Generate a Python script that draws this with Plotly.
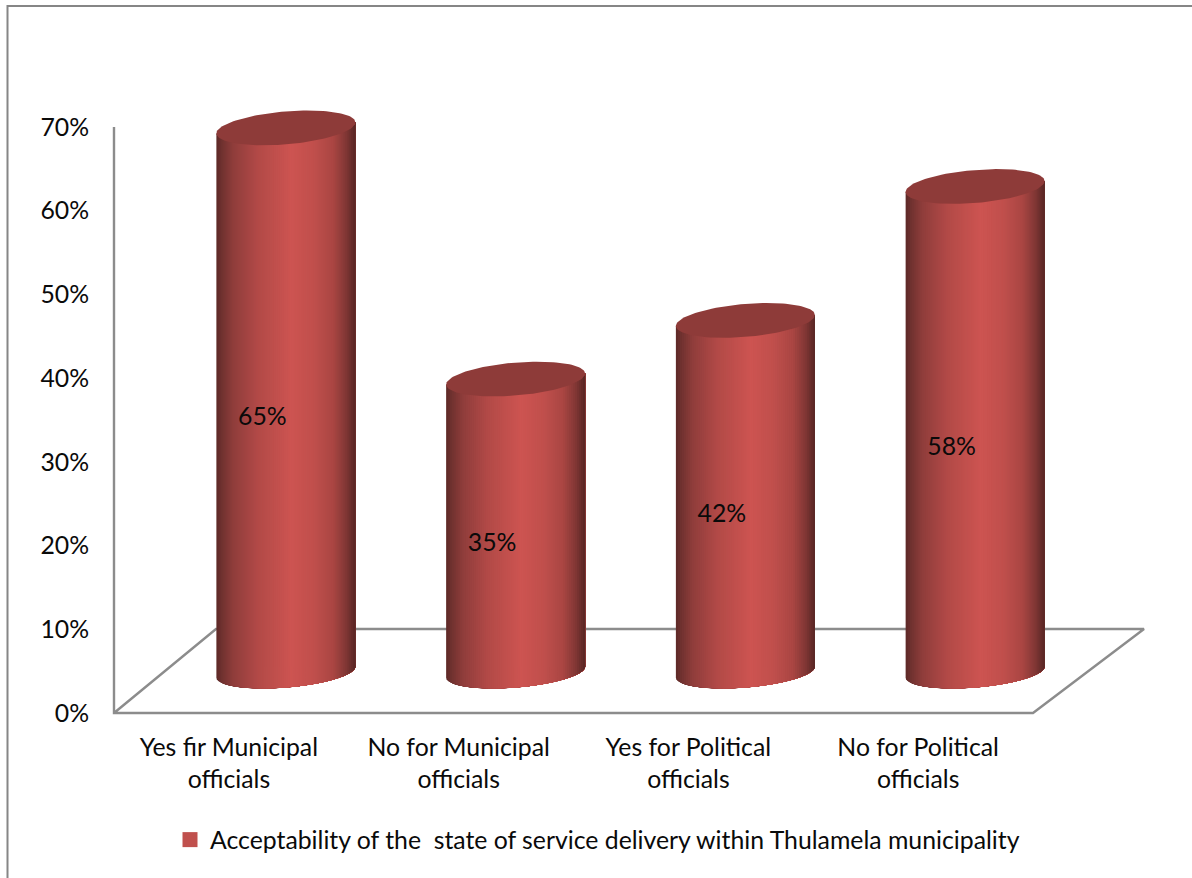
import numpy as np
import plotly.graph_objects as go

# Survey results, in percent
categories = ["Yes fir Municipal<br>officials", "No for Municipal<br>officials",
              "Yes for Political<br>officials", "No for Political<br>officials"]
values = [65, 35, 42, 58]
y_ticks = [0, 10, 20, 30, 40, 50, 60, 70]
y_tick_labels = ["0%", "10%", "20%", "30%", "40%", "50%", "60%", "70%"]
series_name = "Acceptability of the \u00a0state of service delivery within Thulamela municipality"

FONT = "Lato"
TEXT_SIZE = 24.8
TEXT_COLOR = "#0a0a0a"
W, H = 1192, 878

# Scale of the category and value axes on the page
PX_PER_CAT = 229.75
PX_PER_PCT = 8.371
X0_PX, Y0_PX = 114, 713

# Pseudo-3D projection: the floor recedes up and to the right
DEPTH_DX = 57 / PX_PER_CAT       # cylinder centre relative to its category slot
BASE_LIFT = 41 / PX_PER_PCT      # cylinder base above the front edge of the floor
BACK_Y = 84 / PX_PER_PCT
BACK_LEFT = 102 / PX_PER_CAT
BACK_RIGHT = 4 + 111 / PX_PER_CAT

RADIUS = 69.5 / PX_PER_CAT
MINOR = 15.5 / PX_PER_PCT
LID_MINOR = 16.5 / PX_PER_PCT
SHEAR = 5.5 / PX_PER_PCT

# Left-to-right shading across a cylinder
shade_pos = [0.0, 0.04, 0.12, 0.30, 0.54, 0.70, 0.84, 0.93, 1.0]
shade_rgb = [(92, 40, 38), (112, 50, 48), (143, 61, 59), (178, 74, 71), (205, 84, 81),
             (192, 79, 76), (170, 70, 67), (130, 55, 53), (88, 38, 36)]
LID_COLOR = "#8e3b39"
AXIS_COLOR = "#8c8c8c"
SWATCH_COLOR = "#c0504d"


def shade(u):
    r, g, b = (np.interp(u, shade_pos, [c[i] for c in shade_rgb]) for i in range(3))
    return f"rgb({r:.0f},{g:.0f},{b:.0f})"


def rim(cx, cy, t, minor=MINOR):
    """Point on a sheared ellipse around (cx, cy); the right-hand side rides higher."""
    return cx + RADIUS * np.cos(t), cy + minor * np.sin(t) + SHEAR * np.cos(t)


fig = go.Figure()

# Axis wall and floor outline
fig.add_trace(go.Scatter(
    x=[0, 0, 4, BACK_RIGHT, BACK_LEFT, 0],
    y=[y_ticks[-1], 0, 0, BACK_Y, BACK_Y, 0],
    mode="lines", line=dict(color=AXIS_COLOR, width=2.4),
    hoverinfo="skip", showlegend=False))

# Each cylinder is painted from left to right: every band runs from its own
# left boundary to the right edge, so neighbouring bands leave no seams.
BANDS = 70
for i, v in enumerate(values):
    cx = i + 0.5 + DEPTH_DX
    y_base = BASE_LIFT
    y_top = BASE_LIFT + v
    for b in range(BANDS):
        u = b / BANDS
        # Lower arc of the base, from the band's left boundary round to the right edge
        t_start = np.arccos(1 - 2 * u)
        ts = np.linspace(np.pi + t_start, 2 * np.pi, 30)
        bx, by = rim(cx, y_base, ts)
        # Straight up the right silhouette, back along the centre line of the lid
        lid_x = cx + RADIUS * np.array([1.0, 2 * u - 1])
        lid_y = y_top + SHEAR * np.array([1.0, 2 * u - 1])
        fig.add_trace(go.Scatter(
            x=np.concatenate([bx, lid_x]), y=np.concatenate([by, lid_y]),
            mode="lines", fill="toself", fillcolor=shade(u + 0.5 / BANDS),
            line=dict(width=0), hoverinfo="skip", showlegend=False))
    # Upper lid
    t = np.linspace(0, 2 * np.pi, 120)
    lx, ly = rim(cx, y_top, t, LID_MINOR)
    fig.add_trace(go.Scatter(
        x=lx, y=ly, mode="lines", fill="toself", fillcolor=LID_COLOR,
        line=dict(width=0), hoverinfo="skip", showlegend=False))

# Value labels sit on the body of each cylinder
fig.add_trace(go.Scatter(
    x=[i + 0.5 + DEPTH_DX - 23.5 / PX_PER_CAT for i in range(len(values))],
    y=[v / 2 + 2.6 for v in values],
    mode="text", text=[f"{v}%" for v in values],
    textfont=dict(family=FONT, size=TEXT_SIZE, color=TEXT_COLOR),
    hoverinfo="skip", showlegend=False))

# Legend entry for the single series
fig.add_trace(go.Scatter(
    x=[None], y=[None], mode="markers", name=series_name,
    marker=dict(symbol="square", size=15, color=SWATCH_COLOR)))

fig.update_layout(
    width=W, height=H, autosize=False,
    margin=dict(l=0, r=0, t=0, b=0),
    paper_bgcolor="white", plot_bgcolor="white",
    font=dict(family=FONT, size=TEXT_SIZE, color=TEXT_COLOR),
    xaxis=dict(
        domain=[0, 1], range=[-X0_PX / PX_PER_CAT, (W - X0_PX) / PX_PER_CAT],
        tickmode="array", tickvals=[i + 0.5 for i in range(len(categories))],
        ticktext=categories, tickangle=0,
        anchor="free", position=(H - Y0_PX) / H,
        ticks="outside", ticklen=12, tickcolor="rgba(0,0,0,0)",
        showgrid=False, zeroline=False, showline=False),
    yaxis=dict(
        domain=[0, 1], range=[-(H - Y0_PX) / PX_PER_PCT, Y0_PX / PX_PER_PCT],
        tickmode="array", tickvals=y_ticks, ticktext=y_tick_labels,
        anchor="free", position=X0_PX / W,
        ticks="outside", ticklen=20, tickcolor="rgba(0,0,0,0)",
        showgrid=False, zeroline=False, showline=False),
    legend=dict(
        orientation="h", x=170 / W, xanchor="left", y=(H - 840) / H, yanchor="middle",
        bgcolor="rgba(0,0,0,0)", borderwidth=0, itemwidth=30,
        font=dict(family=FONT, size=TEXT_SIZE, color=TEXT_COLOR)),
    shapes=[dict(
        type="rect", xref="paper", yref="paper",
        x0=7.5 / W, x1=1.02, y0=-0.02, y1=1 - 6 / H,
        line=dict(color="#868686", width=2), fillcolor="rgba(0,0,0,0)")],
)

fig.write_html("out.html", config=dict(displayModeBar=False))
